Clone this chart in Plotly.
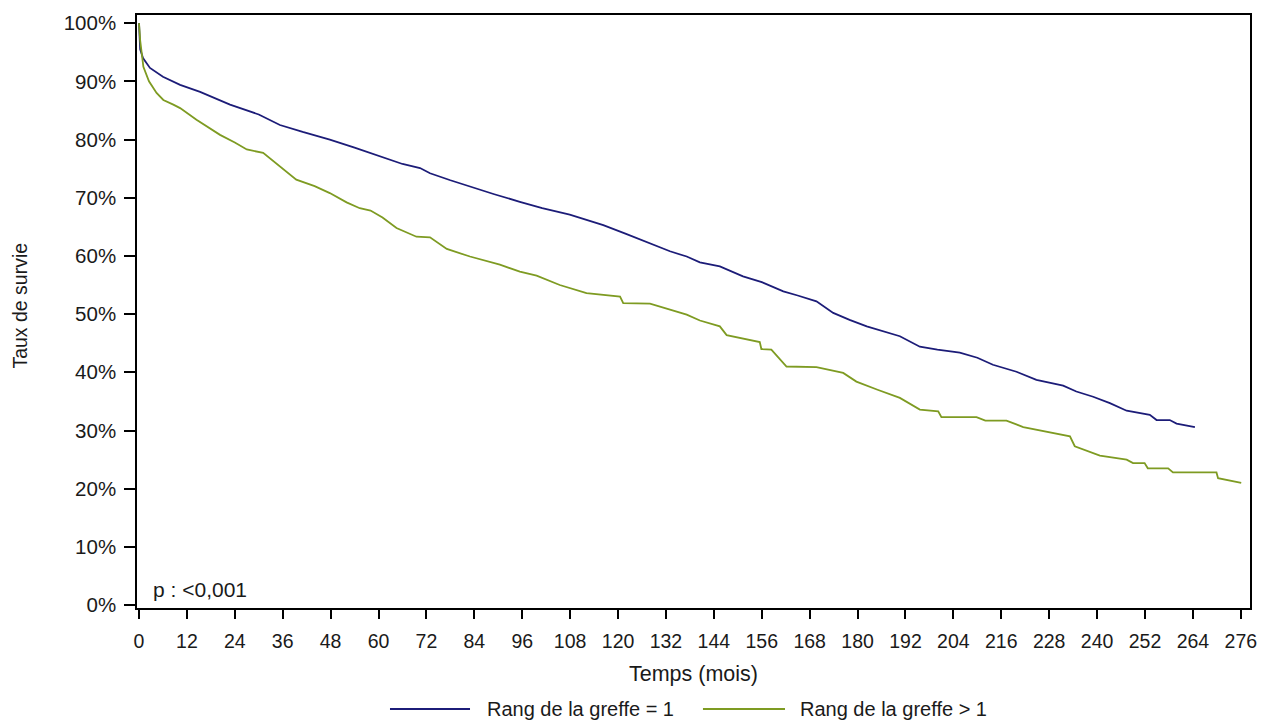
import plotly.graph_objects as go

# Courbes de survie (Kaplan-Meier)
temps_rang1 = [0, 0.3, 1, 2.75, 6, 10.3, 15.3, 22.8, 30, 35.3, 41, 47.8, 54, 60.4, 66,
               70.4, 72.9, 78, 82.9, 89, 95.4, 101, 107.9, 113, 116.3, 122, 128.8, 133,
               137.2, 140.5, 145.5, 151.3, 156, 161.4, 165, 169.7, 173.9, 178, 182.3,
               186, 190.6, 195.6, 200, 205.6, 210, 213.9, 219.8, 224.8, 231.5, 234.8,
               239, 243.2, 247.4, 253.2, 254.9, 258.2, 259.9, 264.5]
survie_rang1 = [100, 95.5, 94, 92.3, 90.8, 89.4, 88.2, 86.0, 84.3, 82.5, 81.3, 80.0, 78.6,
                77.1, 75.8, 75.1, 74.2, 73.0, 71.9, 70.6, 69.3, 68.2, 67.1, 66.0, 65.3,
                63.8, 61.9, 60.8, 59.9, 58.9, 58.2, 56.5, 55.5, 53.9, 53.2, 52.2, 50.2,
                49.0, 47.9, 47.1, 46.2, 44.4, 43.9, 43.4, 42.5, 41.3, 40.1, 38.7, 37.7,
                36.7, 35.8, 34.7, 33.4, 32.7, 31.8, 31.8, 31.2, 30.6]

temps_rang2 = [0, 0.3, 1.1, 2.5, 4.4, 6.1, 8.6, 10.3, 14.4, 17, 20.3, 24, 27, 31.1, 35,
               39.4, 44, 47.8, 52, 55.3, 58, 61, 64.5, 69.5, 72.9, 77.1, 82.9, 90.4,
               95.4, 99.6, 105.4, 112.1, 120.5, 121.3, 128, 132, 137.2, 140.5, 145.5,
               147.2, 155.5, 155.9, 158.4, 162.2, 169.7, 176.4, 179.7, 185, 190.6,
               195.6, 200.2, 201.0, 209.8, 212, 217.3, 221.5, 227.7, 233.2, 234.4,
               240.7, 247.4, 249.0, 251.9, 252.7, 257.8, 259.0, 269.9, 270.3, 276.1]
survie_rang2 = [100, 97, 92.5, 90, 88.0, 86.8, 86.0, 85.4, 83.4, 82.2, 80.8, 79.5, 78.3,
                77.7, 75.5, 73.1, 72.0, 70.8, 69.2, 68.2, 67.8, 66.6, 64.8, 63.3, 63.2,
                61.2, 59.9, 58.5, 57.3, 56.6, 55.0, 53.6, 53.0, 51.9, 51.8, 51.0, 49.9,
                48.9, 47.9, 46.4, 45.2, 44.0, 43.9, 41.0, 40.9, 39.9, 38.4, 37.0, 35.6,
                33.6, 33.3, 32.3, 32.3, 31.7, 31.7, 30.6, 29.8, 29.0, 27.3, 25.7, 25.0,
                24.4, 24.4, 23.5, 23.5, 22.8, 22.8, 21.8, 21.0]

noms = ["Rang de la greffe = 1", "Rang de la greffe > 1"]
couleurs = ["#1C1C78", "#7E9B22"]

ticks_x = list(range(0, 277, 12))
ticks_y = list(range(0, 101, 10))
labels_y = [f"{v}%" for v in ticks_y]

POLICE = "Liberation Sans, Arial, sans-serif"
NOIR = "#1a1a1a"

fig = go.Figure()

for temps, survie, nom, couleur in zip([temps_rang1, temps_rang2],
                                       [survie_rang1, survie_rang2],
                                       noms, couleurs):
    fig.add_trace(go.Scatter(
        x=temps, y=survie, mode="lines", name=nom,
        line=dict(color=couleur, width=1.8),
        showlegend=False,
    ))

# legende faite a la main (traits longs comme dans la sortie SAS)
legende_x = [(0.2273, 0.2992, 0.3127), (0.5085, 0.5822, 0.5939)]
for (x0, x1, xt), nom, couleur in zip(legende_x, noms, couleurs):
    fig.add_shape(type="line", xref="paper", yref="paper",
                  x0=x0, x1=x1, y0=-0.1703, y1=-0.1703,
                  line=dict(color=couleur, width=1.8))
    fig.add_annotation(x=xt, y=-0.1703, xref="paper", yref="paper",
                       xanchor="left", yanchor="middle", showarrow=False,
                       text=nom, font=dict(family=POLICE, size=20, color=NOIR))

# p-value et titres d'axes
fig.add_annotation(
    x=0.0123, y=0.0304, xref="paper", yref="paper",
    xanchor="left", yanchor="middle",
    text="p : <0,001", showarrow=False,
    font=dict(family=POLICE, size=21, color=NOIR),
)
fig.add_annotation(
    x=0.5, y=-0.1113, xref="paper", yref="paper",
    xanchor="center", yanchor="middle",
    text="Temps (mois)", showarrow=False,
    font=dict(family=POLICE, size=21.5, color=NOIR),
)
fig.add_annotation(
    x=-0.1051, y=0.51, xref="paper", yref="paper",
    xanchor="center", yanchor="middle", textangle=-90,
    text="Taux de survie", showarrow=False,
    font=dict(family=POLICE, size=19.5, color=NOIR),
)

fig.update_layout(
    width=1262, height=720,
    plot_bgcolor="white", paper_bgcolor="white",
    margin=dict(l=137, r=12, t=15, b=112, autoexpand=False),
    font=dict(family=POLICE, size=19, color=NOIR),
    showlegend=False,
)

fig.update_xaxes(
    range=[-0.5, 278.3], tickvals=ticks_x,
    showline=True, linecolor="black", linewidth=1.5, mirror=True,
    ticks="outside", ticklen=9, tickwidth=1.5, tickcolor="black",
    tickfont=dict(size=19.5), ticklabelstandoff=6, ticklabeloverflow="allow",
    showgrid=False, zeroline=False, automargin=False,
)
fig.update_yaxes(
    range=[-0.5, 101.4], tickvals=ticks_y, ticktext=labels_y,
    showline=True, linecolor="black", linewidth=1.5, mirror=True,
    ticks="outside", ticklen=11, tickwidth=1.5, tickcolor="black",
    tickfont=dict(size=20.5), ticklabelstandoff=4,
    showgrid=False, zeroline=False, automargin=False,
)

# retire la marge par defaut du <body> pour que la figure occupe toute la fenetre
fig.write_html("out.html", config={"displayModeBar": False},
               post_script="document.body.style.margin = '0';")
